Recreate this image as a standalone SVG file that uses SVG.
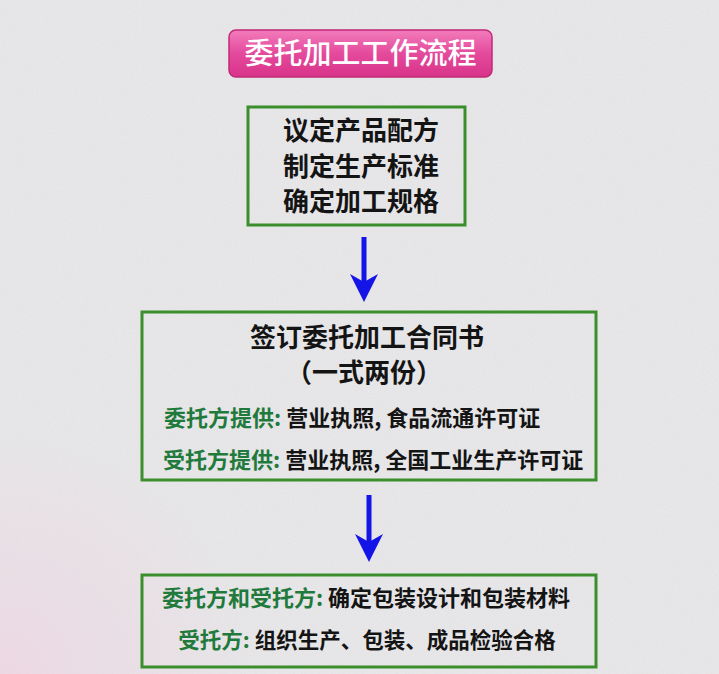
<svg xmlns="http://www.w3.org/2000/svg" width="719" height="674" viewBox="0 0 719 674">
<defs>
<linearGradient id="pill" x1="0" y1="0" x2="0" y2="1">
<stop offset="0" stop-color="#f27cbc"/>
<stop offset="0.5" stop-color="#e44a9c"/>
<stop offset="1" stop-color="#d8338a"/>
</linearGradient>
<radialGradient id="pinkcorner" cx="0" cy="1" r="0.35">
<stop offset="0" stop-color="#f0cfe0" stop-opacity="0.6"/>
<stop offset="1" stop-color="#f0cfe0" stop-opacity="0"/>
</radialGradient>
<filter id="noise" x="0" y="0" width="100%" height="100%">
<feTurbulence type="fractalNoise" baseFrequency="0.9" numOctaves="1" seed="3" result="t"/>
<feColorMatrix type="saturate" values="0.6"/>
</filter>
<marker id="ah" viewBox="0 0 28 28" refX="22" refY="14" markerWidth="28" markerHeight="28" markerUnits="userSpaceOnUse" orient="auto">
<path d="M0,0 L8,14 L0,28 L28,14 Z" fill="#1414e6"/>
</marker>
<style>
.box{fill:none;stroke:#3a8f2c;stroke-width:3}
.t{font-family:"Noto Sans CJK SC","Noto Sans CJK TC",sans-serif;font-weight:700;fill:#141414}
.g{fill:#1f7a3c}
.conn{stroke:#1414e6;stroke-width:5;fill:none}
</style>
</defs>
<rect width="719" height="674" fill="#e9e8ea"/>
<rect width="719" height="674" filter="url(#noise)" opacity="0.12"/>
<rect width="719" height="674" fill="url(#pinkcorner)"/>

<g id="title">
<rect x="229" y="30" width="263" height="47" rx="7" fill="url(#pill)" stroke="#c02a78" stroke-width="1.5"/>
<text x="360.5" y="64" text-anchor="middle" class="t" font-size="29" style="fill:#ffffff;font-weight:500">委托加工工作流程</text>
</g>

<g id="node1">
<rect class="box" x="248" y="107" width="217" height="118"/>
<text class="t" x="361" y="140" text-anchor="middle" font-size="26">议定产品配方</text>
<text class="t" x="361" y="176" text-anchor="middle" font-size="26">制定生产标准</text>
<text class="t" x="361" y="211" text-anchor="middle" font-size="26">确定加工规格</text>
</g>

<g id="node2">
<rect class="box" x="142" y="312" width="454" height="168"/>
<text class="t" x="367" y="347" text-anchor="middle" font-size="26">签订委托加工合同书</text>
<text class="t" x="364" y="382" text-anchor="middle" font-size="26">（一式两份）</text>
<text class="t" x="164" y="426" font-size="22"><tspan class="g">委托方提供:</tspan> 营业执照, 食品流通许可证</text>
<text class="t" x="163" y="468" font-size="22"><tspan class="g">受托方提供:</tspan> 营业执照, 全国工业生产许可证</text>
</g>

<g id="node3">
<rect class="box" x="142" y="575" width="454" height="92"/>
<text class="t" x="366" y="606" text-anchor="middle" font-size="22"><tspan class="g">委托方和受托方:</tspan> 确定包装设计和包装材料</text>
<text class="t" x="367" y="648" text-anchor="middle" font-size="21.5"><tspan class="g">受托方:</tspan> 组织生产、包装、成品检验合格</text>
</g>

<g id="connectors">
<line class="conn" x1="364" y1="237" x2="364" y2="296" marker-end="url(#ah)"/>
<line class="conn" x1="369" y1="495" x2="369" y2="556" marker-end="url(#ah)"/>
</g>
</svg>
